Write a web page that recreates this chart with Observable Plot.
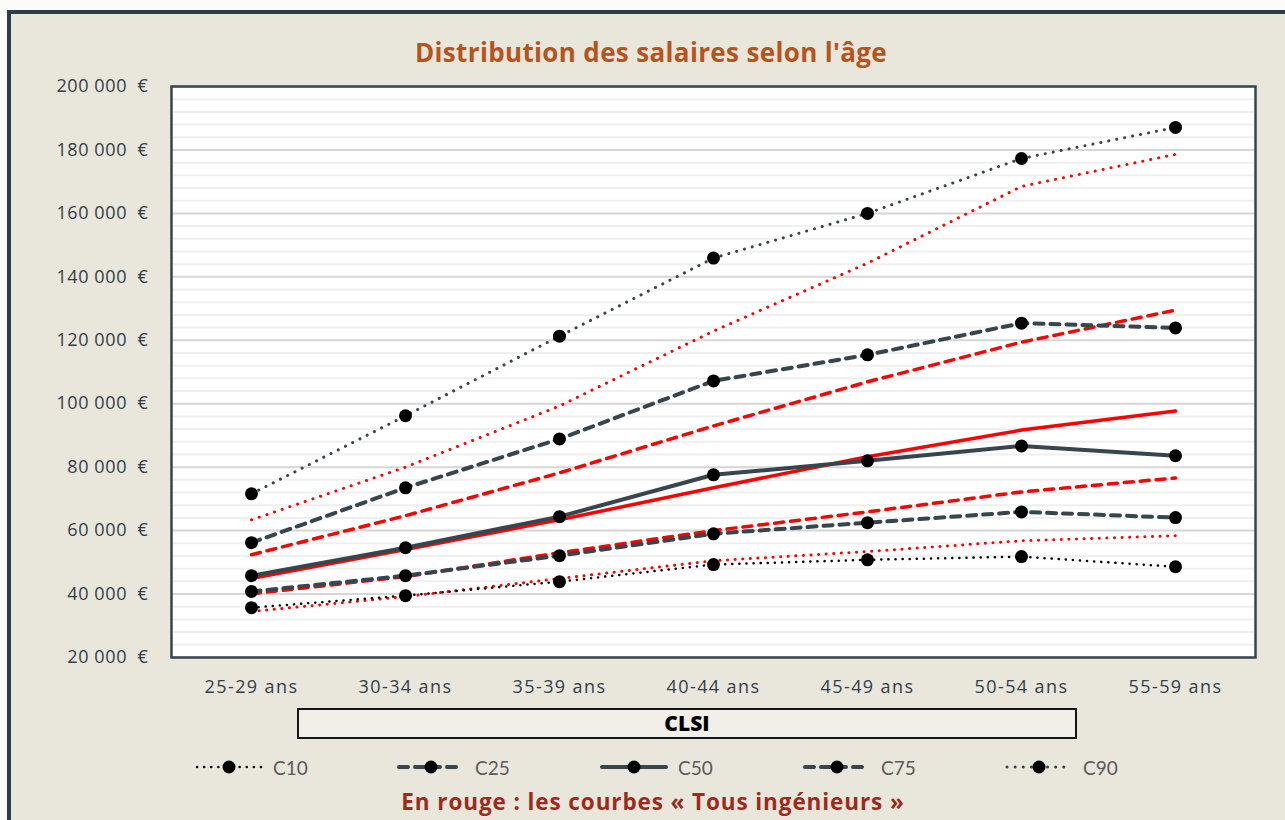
<!DOCTYPE html>
<html>
<head>
<meta charset="utf-8">
<script src="https://cdn.jsdelivr.net/npm/d3@7"></script>
<script src="https://cdn.jsdelivr.net/npm/@observablehq/plot@0.6"></script>
<style>
  html, body { margin: 0; padding: 0; background: #fbfbfa; }
  #wrap { position: relative; width: 1285px; height: 820px; overflow: hidden; font-family: Lato, "Open Sans", sans-serif; font-variant-ligatures: none; }
  #panel { position: absolute; left: 7px; top: 10px; width: 1320px; height: 860px; background: #e9e6dc; border-left: 4px solid #2f3d44; border-top: 4px solid #2f3d44; }
  #chart { position: absolute; left: 0; top: 0; }
  #title { position: absolute; left: 0; width: 1302px; top: 34px; text-align: center; font-family: "Open Sans", sans-serif; font-weight: 700; font-size: 26px; color: #b5541c; letter-spacing: 0.35px; }
  #clsi { position: absolute; left: 297px; top: 708px; width: 776px; height: 27px; border: 2px solid #151515; background: #f1efe7; text-align: center; font-family: "Open Sans", sans-serif; font-weight: 800; font-size: 21px; line-height: 27px; color: #000; }
  .leg { position: absolute; top: 755px; height: 24px; display: flex; align-items: center; font-size: 19px; color: #5a5a5a; }
  .leg svg { margin-right: 10px; }
  #caption { position: absolute; left: 0; width: 1306px; top: 786px; text-align: center; font-family: "Open Sans", sans-serif; font-weight: 700; font-size: 22.5px; color: #9e2a1b; letter-spacing: 0.9px; }
</style>
</head>
<body>
<div id="wrap">
  <div id="panel"></div>
  <div id="chart"></div>
  <div id="title">Distribution des salaires selon l'âge</div>
  <div id="clsi">CLSI</div>
  <div id="legend"></div>
  <div id="caption">En rouge : les courbes « Tous ingénieurs »</div>
</div>
<script>
// Categories
const ages = ["25-29 ans", "30-34 ans", "35-39 ans", "40-44 ans", "45-49 ans", "50-54 ans", "55-59 ans"];
// CLSI series (black)
const clsiC10 = [35700, 39500, 43900, 49300, 50800, 51800, 48600];
const clsiC25 = [40800, 45800, 52100, 59000, 62500, 65900, 64100];
const clsiC50 = [45800, 54600, 64400, 77600, 82000, 86700, 83600];
const clsiC75 = [56200, 73500, 88900, 107200, 115400, 125400, 123900];
const clsiC90 = [71600, 96200, 121300, 145900, 160000, 177300, 187100];
// Tous ingénieurs series (red)
const allC10 = [34500, 39200, 44900, 50500, 53400, 56800, 58400];
const allC25 = [40100, 45500, 53000, 60000, 65900, 72200, 76600];
const allC50 = [44900, 54000, 63400, 73500, 83300, 91700, 97700];
const allC75 = [52400, 64700, 78200, 93000, 106900, 119400, 129500];
const allC90 = [63400, 80000, 99300, 122900, 144300, 168500, 178600];
// Legend labels
const seriesNames = ["C10", "C25", "C50", "C75", "C90"];
const yTicks = [20000, 40000, 60000, 80000, 100000, 120000, 140000, 160000, 180000, 200000];

const slate = "#37454c";
const styles = {
  C10: {stroke: "#000", strokeWidth: 2.5, strokeDasharray: "0.1 7", strokeLinecap: "round"},
  C25: {stroke: slate, strokeWidth: 4, strokeDasharray: "9 7", strokeLinecap: "round"},
  C50: {stroke: slate, strokeWidth: 4, strokeLinecap: "round"},
  C75: {stroke: slate, strokeWidth: 4, strokeDasharray: "9 7", strokeLinecap: "round"},
  C90: {stroke: slate, strokeWidth: 3, strokeDasharray: "0.1 8", strokeLinecap: "round"}
};
const redStyles = {
  C10: {stroke: "#ff0000", strokeWidth: 3, strokeDasharray: "0.1 7.5", strokeLinecap: "round"},
  C25: {stroke: "#ff0000", strokeWidth: 3.5, strokeDasharray: "9 7", strokeLinecap: "round"},
  C50: {stroke: "#ff0000", strokeWidth: 3.5, strokeLinecap: "round"},
  C75: {stroke: "#ff0000", strokeWidth: 3.5, strokeDasharray: "9 7", strokeLinecap: "round"},
  C90: {stroke: "#ff0000", strokeWidth: 3, strokeDasharray: "0.1 8", strokeLinecap: "round"}
};
const clsi = {C10: clsiC10, C25: clsiC25, C50: clsiC50, C75: clsiC75, C90: clsiC90};
const all = {C10: allC10, C25: allC25, C50: allC50, C75: allC75, C90: allC90};
const rows = vals => vals.map((v, i) => ({age: ages[i], value: v}));

const minor = d3.range(20000, 200001, 4000).filter(v => v % 20000 !== 0);
const fmt = v => d3.format(",")(v).replace(/,/g, "\u00a0") + "\u00a0\u00a0€";

const W = 1285, H = 700;
const marks = [
  Plot.frame({fill: "white", stroke: null}),
  Plot.ruleY(minor, {stroke: "#efefef", strokeWidth: 2}),
  Plot.ruleY(yTicks, {stroke: "#d6d6d6", strokeWidth: 2}),
];
for (const s of seriesNames) marks.push(Plot.line(rows(all[s]), {x: "age", y: "value", ...redStyles[s]}));
for (const s of seriesNames) {
  marks.push(Plot.line(rows(clsi[s]), {x: "age", y: "value", ...styles[s]}));
  marks.push(Plot.dot(rows(clsi[s]), {x: "age", y: "value", r: 6.5, fill: "#000", stroke: null}));
}
marks.push(Plot.frame({stroke: "#37454c", strokeWidth: 2.5}));

const chart = Plot.plot({
  width: W, height: H,
  marginLeft: 171, marginRight: W - 1255, marginTop: 86, marginBottom: H - 657,
  style: {background: "transparent", fontFamily: "'Open Sans', sans-serif", fontSize: "18px", color: "#333f48"},
  x: {type: "point", domain: ages, padding: 0.5, label: null, tickSize: 0, tickPadding: 23},
  y: {domain: [20000, 200000], ticks: yTicks, tickFormat: fmt, label: null, tickSize: 0, tickPadding: 23},
  marks
});
chart.querySelectorAll("text").forEach(t => t.setAttribute("fill", "#333f48"));
chart.querySelectorAll("[aria-label='x-axis tick label'] text").forEach(t => t.setAttribute("letter-spacing", "1.4"));
chart.querySelectorAll("[aria-label='y-axis tick label'] text").forEach(t => t.setAttribute("letter-spacing", "0.6"));
document.getElementById("chart").appendChild(chart);

// Legend
const legendX = [195, 397, 600, 803, 1005];
const legend = document.getElementById("legend");
seriesNames.forEach((s, i) => {
  const div = document.createElement("div");
  div.className = "leg";
  div.style.left = legendX[i] + "px";
  const st = styles[s];
  const svg = d3.create("svg").attr("width", 68).attr("height", 24);
  svg.append("line").attr("x1", 2).attr("x2", 66).attr("y1", 12).attr("y2", 12)
    .attr("stroke", st.stroke).attr("stroke-width", st.strokeWidth)
    .attr("stroke-dasharray", st.strokeDasharray || null).attr("stroke-linecap", "round");
  svg.append("circle").attr("cx", 34).attr("cy", 12).attr("r", 6.5).attr("fill", "#000");
  div.appendChild(svg.node());
  const span = document.createElement("span");
  span.textContent = s;
  div.appendChild(span);
  legend.appendChild(div);
});
</script>
</body>
</html>
